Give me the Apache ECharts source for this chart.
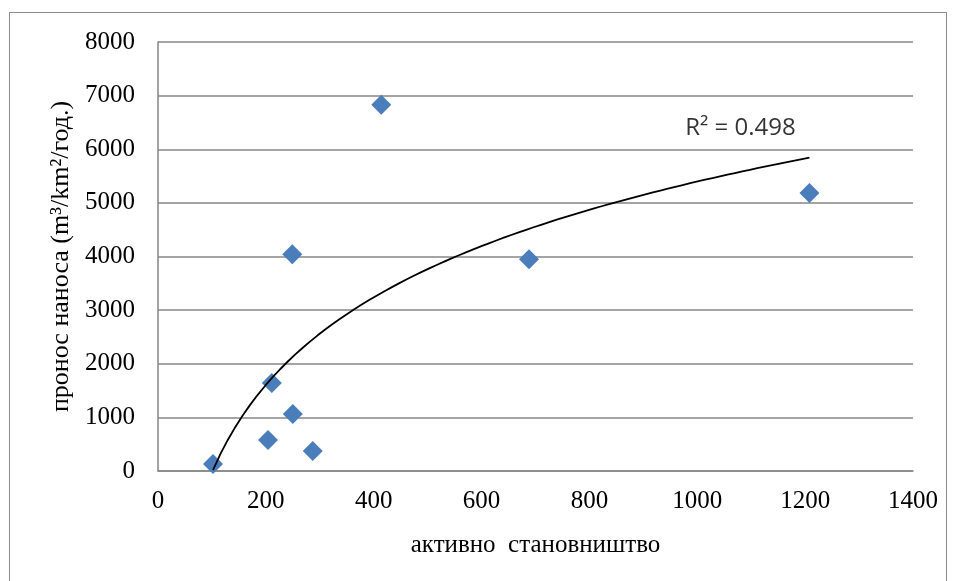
<!DOCTYPE html>
<html>
<head>
<meta charset="utf-8">
<script src="https://cdn.jsdelivr.net/npm/echarts@6/dist/echarts.min.js"></script>
<style>
  html, body { margin: 0; padding: 0; background: #fff; }
  #frame {
    position: absolute; left: 9px; top: 12px; width: 938px; height: 575px;
    border: 1.5px solid #8c8c8c; box-sizing: border-box;
  }
  #chart { width: 957px; height: 581px; position: absolute; left: 0; top: 0; }
</style>
</head>
<body>
<div id="frame"></div>
<div id="chart"></div>
<script>
// активно становништво
const population = [102, 204, 211, 249, 250, 287, 414, 688, 1208]
// пронос наноса
const sediment = [130, 578, 1640, 4040, 1063, 373, 6830, 3950, 5185]
const xTicks = [0, 200, 400, 600, 800, 1000, 1200, 1400]
const yTicks = [0, 1000, 2000, 3000, 4000, 5000, 6000, 7000, 8000]
const r2Text = 'R² = 0.498'
const r2Pos = [1080, 6400]

const points = population.map((x, i) => [x, sediment[i]])

// logarithmic trend line y = a*ln(x) + b, fitted to the points
const lx = population.map(v => Math.log(v))
const n = lx.length
const mx = lx.reduce((s, v) => s + v, 0) / n
const my = sediment.reduce((s, v) => s + v, 0) / n
let sxy = 0, sxx = 0
lx.forEach((v, i) => { sxy += (v - mx) * (sediment[i] - my); sxx += (v - mx) * (v - mx) })
const a = sxy / sxx
const b = my - a * mx
const xMin = Math.min(...population), xMax = Math.max(...population)
const trend = []
for (let k = 0; k <= 80; k++) {
  const x = xMin + (xMax - xMin) * k / 80
  trend.push([x, a * Math.log(x) + b])
}

const chart = echarts.init(document.getElementById('chart'))
const serif = '"Liberation Serif", "Times New Roman", serif'
const fs = 25
chart.setOption({
  animation: false,
  grid: { left: 158, right: 44, top: 42, bottom: 110, containLabel: false },
  xAxis: {
    type: 'value',
    min: xTicks[0], max: xTicks[xTicks.length - 1], interval: 200,
    name: 'активно  становништво',
    nameLocation: 'middle', nameGap: 62,
    nameTextStyle: { fontFamily: serif, fontSize: fs, color: '#000' },
    axisLine: { show: true, lineStyle: { color: '#868686', width: 1.5 } },
    axisTick: { show: false },
    splitLine: { show: false },
    axisLabel: { fontFamily: serif, fontSize: fs, color: '#000', margin: 18, formatter: v => String(v) }
  },
  yAxis: {
    type: 'value',
    min: yTicks[0], max: yTicks[yTicks.length - 1], interval: 1000,
    name: 'пронос наноса (m³/km²/год.)',
    nameLocation: 'middle', nameGap: 75, nameRotate: 90,
    nameTextStyle: { fontFamily: serif, fontSize: 26, color: '#000' },
    axisLine: { show: true, lineStyle: { color: '#868686', width: 1.5 } },
    axisTick: { show: false },
    splitLine: { show: true, lineStyle: { color: '#868686', width: 1.5 } },
    axisLabel: { fontFamily: serif, fontSize: fs, color: '#000', margin: 23, formatter: v => String(v) }
  },
  series: [
    {
      type: 'scatter',
      data: points,
      symbol: 'diamond',
      symbolSize: [20, 20],
      itemStyle: { color: '#4a7ebb', opacity: 1 },
      z: 3
    },
    {
      type: 'line',
      data: trend,
      showSymbol: false,
      smooth: false,
      lineStyle: { color: '#000', width: 1.8 },
      z: 4
    },
    {
      type: 'scatter',
      data: [r2Pos],
      symbolSize: 0,
      silent: true,
      label: {
        show: true,
        position: 'inside',
        formatter: r2Text,
        fontFamily: '"Open Sans", "Liberation Sans", sans-serif',
        fontSize: 24, color: '#000'
      },
      z: 5
    }
  ]
})
</script>
</body>
</html>
